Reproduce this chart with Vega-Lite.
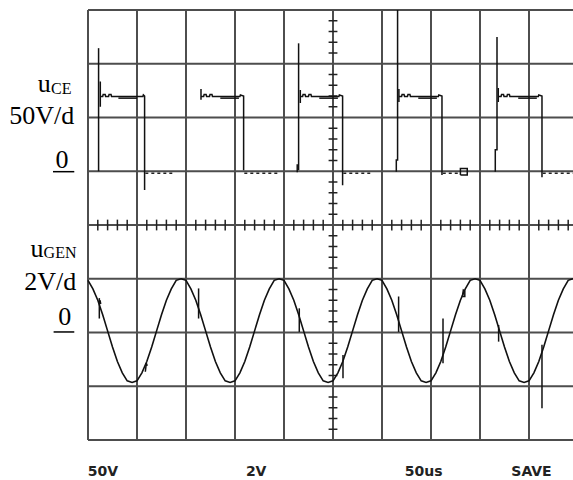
{
  "$schema": "https://vega.github.io/schema/vega-lite/v6.json",
  "width": 485,
  "height": 430,
  "autosize": {"type": "none"},
  "padding": {"left": 88, "top": 10, "right": 0, "bottom": 40},
  "background": "white",
  "config": {"view": {"stroke": null}},
  "datasets": {
    "gv": [{"d": 0}, {"d": 1}, {"d": 2}, {"d": 3}, {"d": 4}, {"d": 5}, {"d": 6}, {"d": 7}, {"d": 8}, {"d": 9}],
    "gh": [{"d": -4}, {"d": -3}, {"d": -2}, {"d": -1}, {"d": 0}, {"d": 1}, {"d": 2}, {"d": 3}, {"d": 4}],
    "th": [{"p": 0.2}, {"p": 0.4}, {"p": 0.6}, {"p": 0.8}, {"p": 1.2}, {"p": 1.4}, {"p": 1.6}, {"p": 1.8}, {"p": 2.2}, {"p": 2.4}, {"p": 2.6}, {"p": 2.8}, {"p": 3.2}, {"p": 3.4}, {"p": 3.6}, {"p": 3.8}, {"p": 4.2}, {"p": 4.4}, {"p": 4.6}, {"p": 4.8}, {"p": 5.2}, {"p": 5.4}, {"p": 5.6}, {"p": 5.8}, {"p": 6.2}, {"p": 6.4}, {"p": 6.6}, {"p": 6.8}, {"p": 7.2}, {"p": 7.4}, {"p": 7.6}, {"p": 7.8}, {"p": 8.2}, {"p": 8.4}, {"p": 8.6}, {"p": 8.8}, {"p": 9.2}, {"p": 9.4}, {"p": 9.6}, {"p": 9.8}],
    "tv": [{"p": -3.8}, {"p": -3.6}, {"p": -3.4}, {"p": -3.2}, {"p": -2.8}, {"p": -2.6}, {"p": -2.4}, {"p": -2.2}, {"p": -1.8}, {"p": -1.6}, {"p": -1.4}, {"p": -1.2}, {"p": -0.8}, {"p": -0.6}, {"p": -0.4}, {"p": -0.2}, {"p": 0.2}, {"p": 0.4}, {"p": 0.6}, {"p": 0.8}, {"p": 1.2}, {"p": 1.4}, {"p": 1.6}, {"p": 1.8}, {"p": 2.2}, {"p": 2.4}, {"p": 2.6}, {"p": 2.8}, {"p": 3.2}, {"p": 3.4}, {"p": 3.6}, {"p": 3.8}],
    "sine": [
      {"x": 0.0, "y": -1.03}, {"x": 0.1, "y": -1.19}, {"x": 0.2, "y": -1.40}, {"x": 0.3, "y": -1.67}, {"x": 0.4, "y": -1.97}, {"x": 0.5, "y": -2.27}, {"x": 0.6, "y": -2.54}, {"x": 0.7, "y": -2.75}, {"x": 0.8, "y": -2.90}, {"x": 0.9, "y": -2.93},
      {"x": 1.0, "y": -2.90}, {"x": 1.1, "y": -2.75}, {"x": 1.2, "y": -2.54}, {"x": 1.3, "y": -2.27}, {"x": 1.4, "y": -1.97}, {"x": 1.5, "y": -1.67}, {"x": 1.6, "y": -1.40}, {"x": 1.7, "y": -1.19}, {"x": 1.8, "y": -1.03}, {"x": 1.9, "y": -1.00},
      {"x": 2.0, "y": -1.03}, {"x": 2.1, "y": -1.19}, {"x": 2.2, "y": -1.40}, {"x": 2.3, "y": -1.67}, {"x": 2.4, "y": -1.97}, {"x": 2.5, "y": -2.27}, {"x": 2.6, "y": -2.54}, {"x": 2.7, "y": -2.75}, {"x": 2.8, "y": -2.90}, {"x": 2.9, "y": -2.93},
      {"x": 3.0, "y": -2.90}, {"x": 3.1, "y": -2.75}, {"x": 3.2, "y": -2.54}, {"x": 3.3, "y": -2.27}, {"x": 3.4, "y": -1.97}, {"x": 3.5, "y": -1.67}, {"x": 3.6, "y": -1.40}, {"x": 3.7, "y": -1.19}, {"x": 3.8, "y": -1.03}, {"x": 3.9, "y": -1.00},
      {"x": 4.0, "y": -1.03}, {"x": 4.1, "y": -1.19}, {"x": 4.2, "y": -1.40}, {"x": 4.3, "y": -1.67}, {"x": 4.4, "y": -1.97}, {"x": 4.5, "y": -2.27}, {"x": 4.6, "y": -2.54}, {"x": 4.7, "y": -2.75}, {"x": 4.8, "y": -2.90}, {"x": 4.9, "y": -2.93},
      {"x": 5.0, "y": -2.90}, {"x": 5.1, "y": -2.75}, {"x": 5.2, "y": -2.54}, {"x": 5.3, "y": -2.27}, {"x": 5.4, "y": -1.97}, {"x": 5.5, "y": -1.67}, {"x": 5.6, "y": -1.40}, {"x": 5.7, "y": -1.19}, {"x": 5.8, "y": -1.03}, {"x": 5.9, "y": -1.00},
      {"x": 6.0, "y": -1.03}, {"x": 6.1, "y": -1.19}, {"x": 6.2, "y": -1.40}, {"x": 6.3, "y": -1.67}, {"x": 6.4, "y": -1.97}, {"x": 6.5, "y": -2.27}, {"x": 6.6, "y": -2.54}, {"x": 6.7, "y": -2.75}, {"x": 6.8, "y": -2.90}, {"x": 6.9, "y": -2.93},
      {"x": 7.0, "y": -2.90}, {"x": 7.1, "y": -2.75}, {"x": 7.2, "y": -2.54}, {"x": 7.3, "y": -2.27}, {"x": 7.4, "y": -1.97}, {"x": 7.5, "y": -1.67}, {"x": 7.6, "y": -1.40}, {"x": 7.7, "y": -1.19}, {"x": 7.8, "y": -1.03}, {"x": 7.9, "y": -1.00},
      {"x": 8.0, "y": -1.03}, {"x": 8.1, "y": -1.19}, {"x": 8.2, "y": -1.40}, {"x": 8.3, "y": -1.67}, {"x": 8.4, "y": -1.97}, {"x": 8.5, "y": -2.27}, {"x": 8.6, "y": -2.54}, {"x": 8.7, "y": -2.75}, {"x": 8.8, "y": -2.90}, {"x": 8.9, "y": -2.93},
      {"x": 9.0, "y": -2.90}, {"x": 9.1, "y": -2.75}, {"x": 9.2, "y": -2.54}, {"x": 9.3, "y": -2.27}, {"x": 9.4, "y": -1.97}, {"x": 9.5, "y": -1.67}, {"x": 9.6, "y": -1.40}, {"x": 9.7, "y": -1.19}, {"x": 9.8, "y": -1.03}, {"x": 9.898, "y": -1.00}
    ],
    "tr": [
      {"s": "a1", "i": 1, "x": 0.216, "y": 1.0}, {"s": "a1", "i": 2, "x": 0.216, "y": 3.29},
      {"s": "b1", "i": 3, "x": 0.251, "y": 2.67}, {"s": "b1", "i": 4, "x": 0.251, "y": 2.20}, {"s": "b1", "i": 5, "x": 0.251, "y": 2.39}, {"s": "b1", "i": 6, "x": 0.30, "y": 2.39}, {"s": "b1", "i": 7, "x": 0.31, "y": 2.43}, {"s": "b1", "i": 8, "x": 0.35, "y": 2.43}, {"s": "b1", "i": 9, "x": 0.36, "y": 2.39}, {"s": "b1", "i": 10, "x": 0.42, "y": 2.39}, {"s": "b1", "i": 11, "x": 0.43, "y": 2.43}, {"s": "b1", "i": 12, "x": 0.47, "y": 2.43}, {"s": "b1", "i": 13, "x": 0.48, "y": 2.39}, {"s": "b1", "i": 14, "x": 1.12, "y": 2.39}, {"s": "b1", "i": 15, "x": 1.13, "y": 2.42}, {"s": "b1", "i": 16, "x": 1.155, "y": 2.40}, {"s": "b1", "i": 17, "x": 1.155, "y": 0.65},
      {"s": "t1", "i": 18, "x": 0.62, "y": 2.36}, {"s": "t1", "i": 19, "x": 1.0, "y": 2.36},
      {"s": "b2", "i": 20, "x": 2.306, "y": 2.53}, {"s": "b2", "i": 21, "x": 2.306, "y": 2.33}, {"s": "b2", "i": 22, "x": 2.306, "y": 2.39}, {"s": "b2", "i": 23, "x": 2.36, "y": 2.39}, {"s": "b2", "i": 24, "x": 2.37, "y": 2.43}, {"s": "b2", "i": 25, "x": 2.41, "y": 2.43}, {"s": "b2", "i": 26, "x": 2.42, "y": 2.39}, {"s": "b2", "i": 27, "x": 2.48, "y": 2.39}, {"s": "b2", "i": 28, "x": 2.49, "y": 2.43}, {"s": "b2", "i": 29, "x": 2.53, "y": 2.43}, {"s": "b2", "i": 30, "x": 2.54, "y": 2.39}, {"s": "b2", "i": 31, "x": 3.10, "y": 2.39}, {"s": "b2", "i": 32, "x": 3.11, "y": 2.42}, {"s": "b2", "i": 33, "x": 3.176, "y": 2.40}, {"s": "b2", "i": 34, "x": 3.176, "y": 1.02},
      {"s": "t2", "i": 35, "x": 2.70, "y": 2.36}, {"s": "t2", "i": 36, "x": 3.08, "y": 2.36},
      {"s": "a3", "i": 37, "x": 4.298, "y": 1.02}, {"s": "a3", "i": 38, "x": 4.298, "y": 3.38},
      {"s": "a3b", "i": 39, "x": 4.27, "y": 0.98}, {"s": "a3b", "i": 40, "x": 4.27, "y": 1.13},
      {"s": "b3", "i": 41, "x": 4.333, "y": 2.51}, {"s": "b3", "i": 42, "x": 4.333, "y": 2.27}, {"s": "b3", "i": 43, "x": 4.333, "y": 2.39}, {"s": "b3", "i": 44, "x": 4.38, "y": 2.39}, {"s": "b3", "i": 45, "x": 4.39, "y": 2.43}, {"s": "b3", "i": 46, "x": 4.43, "y": 2.43}, {"s": "b3", "i": 47, "x": 4.44, "y": 2.39}, {"s": "b3", "i": 48, "x": 4.50, "y": 2.39}, {"s": "b3", "i": 49, "x": 4.51, "y": 2.43}, {"s": "b3", "i": 50, "x": 4.55, "y": 2.43}, {"s": "b3", "i": 51, "x": 4.56, "y": 2.39}, {"s": "b3", "i": 52, "x": 5.12, "y": 2.39}, {"s": "b3", "i": 53, "x": 5.13, "y": 2.42}, {"s": "b3", "i": 54, "x": 5.196, "y": 2.40}, {"s": "b3", "i": 55, "x": 5.196, "y": 0.74},
      {"s": "t3", "i": 56, "x": 4.72, "y": 2.36}, {"s": "t3", "i": 57, "x": 5.10, "y": 2.36},
      {"s": "a4", "i": 58, "x": 6.292, "y": 0.99}, {"s": "a4", "i": 59, "x": 6.292, "y": 1.21}, {"s": "a4", "i": 60, "x": 6.318, "y": 1.21}, {"s": "a4", "i": 61, "x": 6.318, "y": 4.0},
      {"s": "b4", "i": 62, "x": 6.345, "y": 2.53}, {"s": "b4", "i": 63, "x": 6.345, "y": 2.29}, {"s": "b4", "i": 64, "x": 6.345, "y": 2.39}, {"s": "b4", "i": 65, "x": 6.40, "y": 2.39}, {"s": "b4", "i": 66, "x": 6.41, "y": 2.43}, {"s": "b4", "i": 67, "x": 6.45, "y": 2.43}, {"s": "b4", "i": 68, "x": 6.46, "y": 2.39}, {"s": "b4", "i": 69, "x": 6.52, "y": 2.39}, {"s": "b4", "i": 70, "x": 6.53, "y": 2.43}, {"s": "b4", "i": 71, "x": 6.57, "y": 2.43}, {"s": "b4", "i": 72, "x": 6.58, "y": 2.39}, {"s": "b4", "i": 73, "x": 7.15, "y": 2.39}, {"s": "b4", "i": 74, "x": 7.16, "y": 2.42}, {"s": "b4", "i": 75, "x": 7.224, "y": 2.40}, {"s": "b4", "i": 76, "x": 7.224, "y": 0.93},
      {"s": "t4", "i": 77, "x": 6.74, "y": 2.36}, {"s": "t4", "i": 78, "x": 7.12, "y": 2.36},
      {"s": "x4", "i": 79, "x": 7.60, "y": 0.93}, {"s": "x4", "i": 80, "x": 7.60, "y": 1.05}, {"s": "x4", "i": 81, "x": 7.74, "y": 1.05}, {"s": "x4", "i": 82, "x": 7.74, "y": 0.93}, {"s": "x4", "i": 83, "x": 7.60, "y": 0.93},
      {"s": "a5", "i": 84, "x": 8.312, "y": 0.99}, {"s": "a5", "i": 85, "x": 8.312, "y": 1.40}, {"s": "a5", "i": 86, "x": 8.347, "y": 1.40}, {"s": "a5", "i": 87, "x": 8.347, "y": 3.50},
      {"s": "b5", "i": 88, "x": 8.373, "y": 2.55}, {"s": "b5", "i": 89, "x": 8.373, "y": 2.29}, {"s": "b5", "i": 90, "x": 8.373, "y": 2.39}, {"s": "b5", "i": 91, "x": 8.43, "y": 2.39}, {"s": "b5", "i": 92, "x": 8.44, "y": 2.43}, {"s": "b5", "i": 93, "x": 8.48, "y": 2.43}, {"s": "b5", "i": 94, "x": 8.49, "y": 2.39}, {"s": "b5", "i": 95, "x": 8.55, "y": 2.39}, {"s": "b5", "i": 96, "x": 8.56, "y": 2.43}, {"s": "b5", "i": 97, "x": 8.60, "y": 2.43}, {"s": "b5", "i": 98, "x": 8.61, "y": 2.39}, {"s": "b5", "i": 99, "x": 9.19, "y": 2.39}, {"s": "b5", "i": 100, "x": 9.20, "y": 2.42}, {"s": "b5", "i": 101, "x": 9.265, "y": 2.40}, {"s": "b5", "i": 102, "x": 9.265, "y": 0.89},
      {"s": "t5", "i": 103, "x": 8.78, "y": 2.36}, {"s": "t5", "i": 104, "x": 9.16, "y": 2.36},
      {"s": "g1", "i": 105, "x": 0.231, "y": -1.36}, {"s": "g1", "i": 106, "x": 0.231, "y": -1.74},
      {"s": "g1b", "i": 107, "x": 0.245, "y": -1.40}, {"s": "g1b", "i": 108, "x": 0.26, "y": -1.47},
      {"s": "g2", "i": 109, "x": 1.17, "y": -2.73}, {"s": "g2", "i": 110, "x": 1.19, "y": -2.57}, {"s": "g2", "i": 111, "x": 1.21, "y": -2.62},
      {"s": "g3", "i": 112, "x": 2.257, "y": -1.18}, {"s": "g3", "i": 113, "x": 2.257, "y": -1.74},
      {"s": "g4", "i": 114, "x": 4.312, "y": -1.55}, {"s": "g4", "i": 115, "x": 4.312, "y": -1.99},
      {"s": "g5", "i": 116, "x": 5.204, "y": -2.42}, {"s": "g5", "i": 117, "x": 5.204, "y": -2.85},
      {"s": "g6", "i": 118, "x": 6.339, "y": -1.33}, {"s": "g6", "i": 119, "x": 6.339, "y": -1.99},
      {"s": "g7", "i": 120, "x": 7.245, "y": -1.74}, {"s": "g7", "i": 121, "x": 7.245, "y": -2.57},
      {"s": "g8", "i": 122, "x": 7.64, "y": -1.33}, {"s": "g8", "i": 123, "x": 7.66, "y": -1.21}, {"s": "g8", "i": 124, "x": 7.69, "y": -1.23}, {"s": "g8", "i": 125, "x": 7.69, "y": -1.33}, {"s": "g8", "i": 126, "x": 7.64, "y": -1.33},
      {"s": "g9", "i": 127, "x": 8.38, "y": -1.86}, {"s": "g9", "i": 128, "x": 8.38, "y": -2.17},
      {"s": "g10", "i": 129, "x": 9.265, "y": -2.23}, {"s": "g10", "i": 130, "x": 9.265, "y": -3.41}
    ],
    "dl": [
      {"s": "d1", "x": 1.17, "y": 0.965}, {"s": "d1", "x": 1.72, "y": 0.965},
      {"s": "d2", "x": 3.19, "y": 0.965}, {"s": "d2", "x": 3.88, "y": 0.965},
      {"s": "d3", "x": 5.21, "y": 0.965}, {"s": "d3", "x": 5.76, "y": 0.965},
      {"s": "d4", "x": 7.24, "y": 0.965}, {"s": "d4", "x": 7.58, "y": 0.965},
      {"s": "d5", "x": 9.28, "y": 0.965}, {"s": "d5", "x": 9.898, "y": 0.965}
    ],
    "main": [
      {"t": "u", "x": -0.76, "y": 2.474},
      {"t": "50V/d", "x": -0.28, "y": 1.879},
      {"t": "u", "x": -0.906, "y": -0.601},
      {"t": "2V/d", "x": -0.239, "y": -1.209}
    ],
    "sub": [
      {"t": "CE", "x": -0.755, "y": 2.437},
      {"t": "GEN", "x": -0.906, "y": -0.62}
    ],
    "zero": [
      {"t": "0", "x": -0.531, "y": 1.055},
      {"t": "0", "x": -0.473, "y": -1.86}
    ],
    "ul": [
      {"x": -0.714, "x2": -0.28, "y": 0.992},
      {"x": -0.702, "x2": -0.28, "y": -1.99}
    ],
    "bottom": [
      {"t": "50V", "x": -0.004, "y": -4.67},
      {"t": "2V", "x": 3.222, "y": -4.67},
      {"t": "50us", "x": 6.463, "y": -4.67},
      {"t": "SAVE", "x": 8.639, "y": -4.67}
    ]
  },
  "layer": [
    {
      "data": {"name": "gv"},
      "mark": {"type": "rule", "color": "#3a3a3a", "strokeWidth": 1.8},
      "encoding": {"x": {"field": "d", "type": "quantitative", "scale": {"domain": [0, 9.898], "nice": false, "zero": false}, "axis": null}}
    },
    {
      "data": {"name": "gh"},
      "mark": {"type": "rule", "color": "#4d4d4d", "strokeWidth": 2},
      "encoding": {"y": {"field": "d", "type": "quantitative", "scale": {"domain": [-4, 4], "nice": false, "zero": false}, "axis": null}}
    },
    {
      "data": {"name": "th"},
      "mark": {"type": "rule", "color": "#222", "strokeWidth": 1.5},
      "encoding": {
        "x": {"field": "p", "type": "quantitative", "scale": {"domain": [0, 9.898], "nice": false, "zero": false}, "axis": null},
        "y": {"datum": -0.1, "type": "quantitative", "scale": {"domain": [-4, 4], "nice": false, "zero": false}, "axis": null},
        "y2": {"datum": 0.1}
      }
    },
    {
      "data": {"name": "tv"},
      "mark": {"type": "rule", "color": "#222", "strokeWidth": 1.5},
      "encoding": {
        "y": {"field": "p", "type": "quantitative", "scale": {"domain": [-4, 4], "nice": false, "zero": false}, "axis": null},
        "x": {"datum": 4.91, "type": "quantitative", "scale": {"domain": [0, 9.898], "nice": false, "zero": false}, "axis": null},
        "x2": {"datum": 5.09}
      }
    },
    {
      "data": {"name": "sine"},
      "mark": {"type": "line", "color": "#111", "strokeWidth": 1.6},
      "encoding": {
        "x": {"field": "x", "type": "quantitative", "scale": {"domain": [0, 9.898], "nice": false, "zero": false}, "axis": null},
        "y": {"field": "y", "type": "quantitative", "scale": {"domain": [-4, 4], "nice": false, "zero": false}, "axis": null}
      }
    },
    {
      "data": {"name": "tr"},
      "mark": {"type": "line", "color": "#111", "strokeWidth": 1.5},
      "encoding": {
        "x": {"field": "x", "type": "quantitative", "scale": {"domain": [0, 9.898], "nice": false, "zero": false}, "axis": null},
        "y": {"field": "y", "type": "quantitative", "scale": {"domain": [-4, 4], "nice": false, "zero": false}, "axis": null},
        "detail": {"field": "s", "type": "nominal"},
        "order": {"field": "i", "type": "quantitative"}
      }
    },
    {
      "data": {"name": "dl"},
      "mark": {"type": "line", "color": "#222", "strokeWidth": 1.5, "strokeDash": [3, 3]},
      "encoding": {
        "x": {"field": "x", "type": "quantitative", "scale": {"domain": [0, 9.898], "nice": false, "zero": false}, "axis": null},
        "y": {"field": "y", "type": "quantitative", "scale": {"domain": [-4, 4], "nice": false, "zero": false}, "axis": null},
        "detail": {"field": "s", "type": "nominal"}
      }
    },
    {
      "data": {"name": "main"},
      "mark": {"type": "text", "font": "Liberation Serif", "fontSize": 26, "align": "right", "baseline": "alphabetic", "color": "#000"},
      "encoding": {
        "x": {"field": "x", "type": "quantitative", "scale": {"domain": [0, 9.898], "nice": false, "zero": false}, "axis": null},
        "y": {"field": "y", "type": "quantitative", "scale": {"domain": [-4, 4], "nice": false, "zero": false}, "axis": null},
        "text": {"field": "t", "type": "nominal"}
      }
    },
    {
      "data": {"name": "sub"},
      "mark": {"type": "text", "font": "Liberation Serif", "fontSize": 16, "align": "left", "baseline": "alphabetic", "color": "#000"},
      "encoding": {
        "x": {"field": "x", "type": "quantitative", "scale": {"domain": [0, 9.898], "nice": false, "zero": false}, "axis": null},
        "y": {"field": "y", "type": "quantitative", "scale": {"domain": [-4, 4], "nice": false, "zero": false}, "axis": null},
        "text": {"field": "t", "type": "nominal"}
      }
    },
    {
      "data": {"name": "zero"},
      "mark": {"type": "text", "font": "Liberation Serif", "fontSize": 26, "align": "center", "baseline": "alphabetic", "color": "#000"},
      "encoding": {
        "x": {"field": "x", "type": "quantitative", "scale": {"domain": [0, 9.898], "nice": false, "zero": false}, "axis": null},
        "y": {"field": "y", "type": "quantitative", "scale": {"domain": [-4, 4], "nice": false, "zero": false}, "axis": null},
        "text": {"field": "t", "type": "nominal"}
      }
    },
    {
      "data": {"name": "ul"},
      "mark": {"type": "rule", "color": "#000", "strokeWidth": 1.5},
      "encoding": {
        "x": {"field": "x", "type": "quantitative", "scale": {"domain": [0, 9.898], "nice": false, "zero": false}, "axis": null},
        "x2": {"field": "x2"},
        "y": {"field": "y", "type": "quantitative", "scale": {"domain": [-4, 4], "nice": false, "zero": false}, "axis": null}
      }
    },
    {
      "data": {"name": "bottom"},
      "mark": {"type": "text", "font": "DejaVu Sans", "fontWeight": "bold", "fontSize": 14, "align": "left", "baseline": "alphabetic", "color": "#222"},
      "encoding": {
        "x": {"field": "x", "type": "quantitative", "scale": {"domain": [0, 9.898], "nice": false, "zero": false}, "axis": null},
        "y": {"field": "y", "type": "quantitative", "scale": {"domain": [-4, 4], "nice": false, "zero": false}, "axis": null},
        "text": {"field": "t", "type": "nominal"}
      }
    }
  ]
}
